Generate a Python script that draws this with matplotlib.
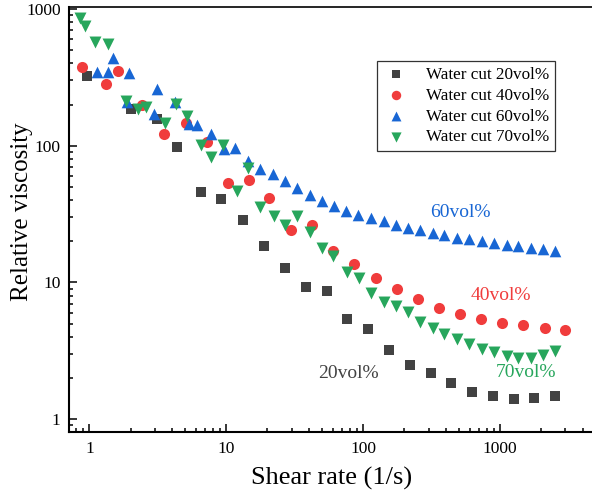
import matplotlib
matplotlib.use("Agg")
import matplotlib.pyplot as plt
from matplotlib.ticker import FixedLocator, FixedFormatter, LogLocator, NullFormatter

plt.rcParams['font.family'] = ['Liberation Serif', 'DejaVu Serif']

# Relative viscosity vs shear rate for four water cuts
rate_20 = [0.967, 2.02, 3.13, 4.39, 6.58, 9.22, 13.3, 18.9, 26.9, 38.4, 54.6, 76.4,
           108.5, 154, 220, 313, 438, 626, 884, 1260, 1770, 2520]
visc_20 = [323, 184, 157, 97.2, 45.6, 40.7, 28.7, 18.3, 12.7, 9.2, 8.64, 5.37,
           4.54, 3.19, 2.49, 2.18, 1.84, 1.58, 1.47, 1.40, 1.42, 1.47]

rate_40 = [0.889, 1.33, 1.63, 2.44, 3.53, 5.10, 7.25, 10.3, 14.7, 20.6, 29.9, 42.4,
           60.1, 86.0, 124, 177, 251, 360, 511, 725, 1030, 1480, 2120, 3000]
visc_40 = [377, 282, 349, 198, 122, 146, 107, 53.1, 56.5, 41.7, 24.2, 26.4,
           16.9, 13.7, 10.7, 8.89, 7.55, 6.54, 5.84, 5.43, 5.08, 4.86, 4.67, 4.52]

rate_60 = [1.144, 1.376, 1.497, 1.893, 1.958, 2.981, 3.137, 4.244, 5.31, 6.11, 7.73,
           9.56, 11.6, 14.5, 17.7, 21.8, 26.9, 32.8, 40.6, 50.0, 61.4, 75.2, 92.4,
           114, 141, 173, 212, 261, 321, 392, 483, 597, 735, 904, 1120, 1360, 1680,
           2070, 2530]
visc_60 = [347, 347, 437, 207, 343, 170, 258, 210, 144, 142, 122,
           95.1, 95.5, 77.8, 67.6, 62.5, 55.5, 49.1, 43.9, 39.7, 36.2, 33.5, 31.2,
           29.5, 27.9, 26.4, 24.9, 24.0, 22.9, 22.3, 21.2, 20.6, 20.0, 19.4, 18.9,
           18.4, 17.8, 17.5, 16.9]

rate_70 = [0.860, 0.924, 1.106, 1.369, 1.853, 2.253, 2.594, 3.587, 4.295, 5.19, 6.49,
           7.68, 9.51, 12.0, 14.5, 17.7, 22.2, 26.9, 32.8, 40.6, 50.0, 60.7, 75.8,
           92.7, 114, 141, 173, 212, 261, 321, 392, 483, 597, 735, 904, 1120, 1360,
           1680, 2070, 2530]
visc_70 = [864, 751, 574, 558, 213, 187, 193, 146, 202, 166, 102,
           83.1, 101, 46.9, 68.3, 35.5, 30.8, 26.1, 30.8, 23.3, 17.9, 15.7, 11.9,
           10.7, 8.41, 7.18, 6.68, 6.07, 5.13, 4.64, 4.22, 3.88, 3.57, 3.28, 3.10,
           2.88, 2.82, 2.82, 2.95, 3.15]

series_labels = ['Water cut 20vol%', 'Water cut 40vol%', 'Water cut 60vol%', 'Water cut 70vol%']
curve_tags = ['20vol%', '40vol%', '60vol%', '70vol%']
tag_rates = [77.8, 1017, 511, 1549]
tag_viscs = [2.17, 8.04, 32.4, 2.20]

x_ticks = [1, 10, 100, 1000]
x_tick_labels = ['1', '10', '100', '1000']
y_ticks = [1, 10, 100, 1000]
y_tick_labels = ['1', '10', '100', '1000']

c_gray = '#424242'
c_red = '#f03c3c'
c_blue = '#1866d4'
c_green = '#27a65c'

W, H = 592, 492
fig = plt.figure(figsize=(W / 100, H / 100), dpi=100)
# axes run past the right edge of the canvas
left_px, right_px, top_px, bottom_px = 69, 637, 7.3, 432.3
ax = fig.add_axes([left_px / W, (H - bottom_px) / H,
                   (right_px - left_px) / W, (bottom_px - top_px) / H])
ax.set_xscale('log')
ax.set_yscale('log')
ax.set_xlim(0.71, 10000)
ax.set_ylim(0.80, 1029)

ax.scatter(rate_20, visc_20, marker='s', s=46, color=c_gray, linewidths=0,
           label=series_labels[0], zorder=3)
ax.scatter(rate_40, visc_40, marker='o', s=64, color=c_red, linewidths=0,
           label=series_labels[1], zorder=3)
ax.scatter(rate_60, visc_60, marker='^', s=70, color=c_blue, linewidths=0,
           label=series_labels[2], zorder=3)
ax.scatter(rate_70, visc_70, marker='v', s=74, color=c_green, linewidths=0,
           label=series_labels[3], zorder=3)

for tag, xr, yv, col in zip(curve_tags, tag_rates, tag_viscs, [c_gray, c_red, c_blue, c_green]):
    ax.text(xr, yv, tag, color=col, fontsize=14, ha='center', va='center')

ax.xaxis.set_major_locator(FixedLocator(x_ticks))
ax.xaxis.set_major_formatter(FixedFormatter(x_tick_labels))
ax.yaxis.set_major_locator(FixedLocator(y_ticks))
ax.yaxis.set_major_formatter(FixedFormatter(y_tick_labels))
ax.xaxis.set_minor_locator(LogLocator(base=10, subs=range(2, 10), numticks=20))
ax.yaxis.set_minor_locator(LogLocator(base=10, subs=range(2, 10), numticks=20))
ax.xaxis.set_minor_formatter(NullFormatter())
ax.yaxis.set_minor_formatter(NullFormatter())

ax.tick_params(which='both', direction='in', top=False, right=False, width=1.1, color='black')
ax.tick_params(which='major', length=6, labelsize=12.5, pad=6)
ax.tick_params(which='minor', length=3)

for side in ['left', 'bottom']:
    ax.spines[side].set_linewidth(1.5)
ax.spines['top'].set_linewidth(1.2)

ax.set_xlabel('Shear rate (1/s)', fontsize=19)
ax.xaxis.set_label_coords((332 - left_px) / (right_px - left_px),
                          -(478 - bottom_px) / (bottom_px - top_px))
ax.xaxis.label.set_va('center')
ax.set_ylabel('Relative viscosity', fontsize=18)
ax.yaxis.set_label_coords(-(69 - 22) / (right_px - left_px),
                          (bottom_px - 212) / (bottom_px - top_px))
ax.yaxis.label.set_va('center')

leg = ax.legend(loc='upper left',
                bbox_to_anchor=((377 - left_px) / (right_px - left_px),
                                (bottom_px - 61) / (bottom_px - top_px)),
                borderaxespad=0, fontsize=12.3, frameon=True, fancybox=False,
                edgecolor='#333333', framealpha=1, handletextpad=1.0,
                labelspacing=0.28, borderpad=0.35, handlelength=1.5,
                markerscale=0.85)
leg.get_frame().set_linewidth(0.9)

fig.savefig('out.png', dpi=100)
